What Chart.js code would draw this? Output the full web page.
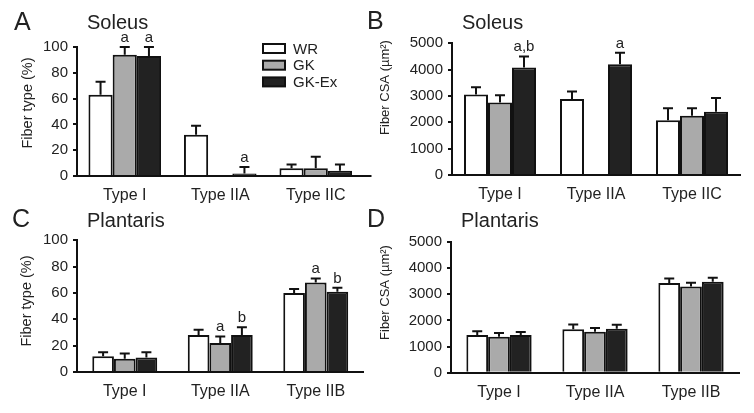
<!DOCTYPE html>
<html>
<head>
<meta charset="utf-8">
<script src="https://cdn.jsdelivr.net/npm/chart.js@4.4.1/dist/chart.umd.min.js"></script>
<style>
  body { margin: 0; background: #fff; }
  #wrap { position: relative; width: 754px; height: 413px; }
  #wrap canvas { position: absolute; left: 0; top: 0; }
</style>
</head>
<body>
<div id="wrap">
  <canvas id="chartA" width="754" height="413"></canvas>
  <canvas id="chartB" width="754" height="413"></canvas>
  <canvas id="chartC" width="754" height="413"></canvas>
  <canvas id="chartD" width="754" height="413"></canvas>
</div>
<script>
// categories
const soleusTypes = ['Type I', 'Type IIA', 'Type IIC'];
const plantarisTypes = ['Type I', 'Type IIA', 'Type IIB'];

// A: soleus fiber type (%)
const soleusTypeWR = [63, 32, 6];
const soleusTypeWRErr = [10, 7, 3];
const soleusTypeGK = [94, 0, 6];
const soleusTypeGKErr = [6, 0, 9];
const soleusTypeGKEx = [93, 2, 4];
const soleusTypeGKExErr = [7, 5, 5];

// B: soleus fiber CSA (um2)
const soleusCsaWR = [3060, 2890, 2080];
const soleusCsaWRErr = [270, 280, 450];
const soleusCsaGK = [2750, null, 2250];
const soleusCsaGKErr = [280, 0, 280];
const soleusCsaGKEx = [4080, 4200, 2400];
const soleusCsaGKExErr = [420, 440, 520];

// C: plantaris fiber type (%)
const plantarisTypeWR = [12, 28, 60];
const plantarisTypeWRErr = [3, 4, 3];
const plantarisTypeGK = [10, 22, 68];
const plantarisTypeGKErr = [4, 5, 3];
const plantarisTypeGKEx = [11, 28, 61];
const plantarisTypeGKExErr = [4, 6, 3];

// D: plantaris fiber CSA (um2)
const plantarisCsaWR = [1440, 1660, 3430];
const plantarisCsaWRErr = [150, 180, 170];
const plantarisCsaGK = [1380, 1570, 3300];
const plantarisCsaGKErr = [140, 140, 140];
const plantarisCsaGKEx = [1440, 1680, 3480];
const plantarisCsaGKExErr = [120, 150, 150];

// significance letters
const marksA = { gk: ['a', '', ''], gkex: ['a', 'a', ''] };
const marksB = { gk: ['', '', ''], gkex: ['a,b', 'a', ''] };
const marksC = { gk: ['', 'a', 'a'], gkex: ['', 'b', 'b'] };
const marksD = { gk: ['', '', ''], gkex: ['', '', ''] };

const groupNames = ['WR', 'GK', 'GK-Ex'];
const groupColors = ['#ffffff', '#aaaaaa', '#222222'];

const FONT = "'Liberation Sans', Arial, sans-serif";
const INK = '#111';
const TEXT = '#222';
const YW = 60; // fixed width of the y scale box
const XH = 36; // fixed height of the x scale box

// upper error bars + letters above them
const errorBars = {
  id: 'errorBars',
  afterDatasetsDraw(chart) {
    const ctx = chart.ctx;
    const y = chart.scales.y;
    ctx.save();
    ctx.strokeStyle = INK;
    ctx.lineWidth = 2;
    ctx.fillStyle = TEXT;
    ctx.font = '15px ' + FONT;
    ctx.textAlign = 'center';
    ctx.textBaseline = 'alphabetic';
    chart.data.datasets.forEach((ds, i) => {
      const meta = chart.getDatasetMeta(i);
      meta.data.forEach((bar, j) => {
        const v = ds.data[j];
        if (v == null) return;
        const e = ds.errors[j] || 0;
        const top = y.getPixelForValue(v + e);
        if (e > 0) {
          ctx.beginPath();
          ctx.moveTo(bar.x, bar.y);
          ctx.lineTo(bar.x, top);
          ctx.moveTo(bar.x - 5, top);
          ctx.lineTo(bar.x + 5, top);
          ctx.stroke();
        }
        const m = ds.marks && ds.marks[j];
        if (m) ctx.fillText(m, bar.x, top - 5);
      });
    });
    ctx.restore();
  }
};

// panel letter, muscle name, y title, legend
const panelText = {
  id: 'panelText',
  afterDraw(chart, args, o) {
    const ctx = chart.ctx;
    const area = chart.chartArea;
    ctx.save();
    ctx.fillStyle = TEXT;
    ctx.textAlign = 'left';
    ctx.textBaseline = 'alphabetic';
    ctx.font = '25px ' + FONT;
    ctx.fillText(o.letter, o.lx, o.ly);
    ctx.font = '20px ' + FONT;
    ctx.fillText(o.title, o.tx, o.ty);

    ctx.save();
    ctx.translate(o.yx, o.yy);
    ctx.rotate(-Math.PI / 2);
    ctx.textAlign = 'center';
    ctx.textBaseline = 'middle';
    ctx.font = o.ysize + 'px ' + FONT;
    ctx.fillText(o.ytitle, 0, 0);
    ctx.restore();

    if (o.extra) {
      ctx.strokeStyle = INK;
      ctx.lineWidth = 2;
      ctx.beginPath();
      ctx.moveTo(area.right - 1, area.bottom);
      ctx.lineTo(area.right + o.extra, area.bottom);
      ctx.stroke();
    }

    if (o.legend) {
      ctx.font = '15px ' + FONT;
      ctx.textBaseline = 'middle';
      chart.data.datasets.forEach((ds, i) => {
        const cy = o.legend.y + i * o.legend.dy;
        ctx.fillStyle = ds.backgroundColor;
        ctx.fillRect(o.legend.x, cy - 4.5, 22, 9);
        ctx.strokeStyle = INK;
        ctx.lineWidth = 2;
        ctx.strokeRect(o.legend.x, cy - 4.5, 22, 9);
        ctx.fillStyle = TEXT;
        ctx.fillText(ds.label, o.legend.x + 30, cy + 1);
      });
    }
    ctx.restore();
  }
};

function makeChart(id, p) {
  const series = [
    { data: p.wr, errors: p.wrErr, marks: null },
    { data: p.gk, errors: p.gkErr, marks: p.marks.gk },
    { data: p.gkex, errors: p.gkexErr, marks: p.marks.gkex }
  ];
  const datasets = series.map((s, i) => ({
    label: groupNames[i],
    data: s.data,
    errors: s.errors,
    marks: s.marks,
    backgroundColor: groupColors[i],
    borderColor: INK,
    borderWidth: 2,
    borderSkipped: 'start',
    categoryPercentage: p.cat,
    barPercentage: 1
  }));
  return new Chart(document.getElementById(id), {
    type: 'bar',
    data: { labels: p.labels, datasets: datasets },
    options: {
      responsive: false,
      animation: false,
      events: [],
      layout: {
        padding: {
          left: p.area.l - YW,
          right: 754 - p.area.r,
          top: p.area.t,
          bottom: 413 - p.area.b - XH
        }
      },
      plugins: {
        legend: { display: false },
        tooltip: { enabled: false },
        panelText: p.text
      },
      scales: {
        x: {
          grid: { drawOnChartArea: false, drawTicks: false },
          border: { color: INK, width: 2 },
          ticks: { color: TEXT, font: { size: 16, family: FONT }, padding: 10 },
          afterFit: s => { s.height = XH; }
        },
        y: {
          min: 0,
          max: p.max,
          ticks: {
            stepSize: p.step, color: TEXT, font: { size: 15, family: FONT }, padding: 5,
            callback: v => String(v)
          },
          grid: { drawOnChartArea: false, drawTicks: true, tickLength: 4, color: INK, lineWidth: 2 },
          border: { color: INK, width: 2 },
          afterFit: s => { s.width = YW; }
        }
      }
    },
    plugins: [errorBars, panelText]
  });
}

makeChart('chartA', {
  labels: soleusTypes,
  wr: soleusTypeWR, wrErr: soleusTypeWRErr,
  gk: soleusTypeGK, gkErr: soleusTypeGKErr,
  gkex: soleusTypeGKEx, gkexErr: soleusTypeGKExErr,
  marks: marksA, max: 100, step: 20, cat: 0.76,
  area: { l: 77, r: 363.5, t: 47, b: 176 },
  text: { letter: 'A', lx: 14, ly: 30, title: 'Soleus', tx: 87, ty: 29,
          ytitle: 'Fiber type (%)', yx: 27.5, yy: 103, ysize: 14.5, extra: 8,
          legend: { x: 263, y: 48.5, dy: 16.7 } }
});

makeChart('chartB', {
  labels: soleusTypes,
  wr: soleusCsaWR, wrErr: soleusCsaWRErr,
  gk: soleusCsaGK, gkErr: soleusCsaGKErr,
  gkex: soleusCsaGKEx, gkexErr: soleusCsaGKExErr,
  marks: marksB, max: 5000, step: 1000, cat: 0.75,
  area: { l: 452, r: 740, t: 43.3, b: 175 },
  text: { letter: 'B', lx: 367, ly: 29, title: 'Soleus', tx: 462, ty: 29,
          ytitle: 'Fiber CSA (\u00b5m\u00b2)', yx: 385, yy: 87.5, ysize: 13, extra: 0 }
});

makeChart('chartC', {
  labels: plantarisTypes,
  wr: plantarisTypeWR, wrErr: plantarisTypeWRErr,
  gk: plantarisTypeGK, gkErr: plantarisTypeGKErr,
  gkex: plantarisTypeGKEx, gkexErr: plantarisTypeGKExErr,
  marks: marksC, max: 100, step: 20, cat: 0.68,
  area: { l: 77, r: 363.5, t: 240.3, b: 372 },
  text: { letter: 'C', lx: 12, ly: 227, title: 'Plantaris', tx: 87, ty: 227,
          ytitle: 'Fiber type (%)', yx: 27, yy: 301, ysize: 14.5, extra: 0 }
});

makeChart('chartD', {
  labels: plantarisTypes,
  wr: plantarisCsaWR, wrErr: plantarisCsaWRErr,
  gk: plantarisCsaGK, gkErr: plantarisCsaGKErr,
  gkex: plantarisCsaGKEx, gkexErr: plantarisCsaGKExErr,
  marks: marksD, max: 5000, step: 1000, cat: 0.68,
  area: { l: 451, r: 739, t: 242, b: 372.7 },
  text: { letter: 'D', lx: 367, ly: 227, title: 'Plantaris', tx: 461, ty: 227,
          ytitle: 'Fiber CSA (\u00b5m\u00b2)', yx: 385, yy: 292.5, ysize: 13, extra: 0 }
});
</script>
</body>
</html>
